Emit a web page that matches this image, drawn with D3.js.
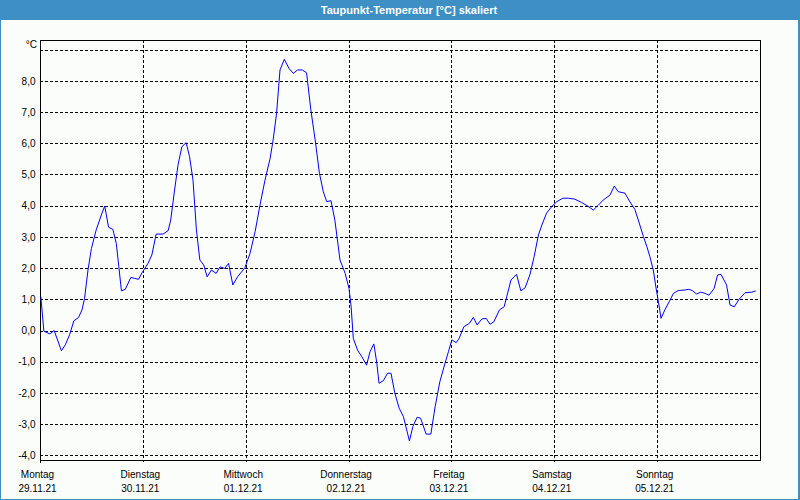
<!DOCTYPE html>
<html><head><meta charset="utf-8">
<script src="https://cdn.jsdelivr.net/npm/d3@7"></script>
<style>html,body{margin:0;padding:0;background:#3d8fc4;}svg{display:block;}</style>
</head><body>
<svg id="c" width="800" height="500"></svg>
<script>
const title = "Taupunkt-Temperatur [°C] skaliert";
const unitLabel = "°C";
const dayNames = ["Montag","Dienstag","Mittwoch","Donnerstag","Freitag","Samstag","Sonntag"];
const dayDates = ["29.11.21","30.11.21","01.12.21","02.12.21","03.12.21","04.12.21","05.12.21"];
const yTicks = [-4,-3,-2,-1,0,1,2,3,4,5,6,7,8,9];
// hours since Montag 29.11.21 00:00
const hours = [0.2,0.9,2.3,3.3,5.0,5.9,6.9,7.9,9.0,9.8,10.4,11.2,12.0,13.1,14.3,15.1,16.0,17.0,17.8,18.4,19.0,19.9,21.2,22.1,23.0,23.8,25.2,26.1,27.1,28.7,29.9,30.5,31.4,32.2,33.1,34.1,34.9,35.7,36.5,37.3,38.2,39.0,40.0,41.1,42.0,43.1,44.0,45.0,46.1,47.8,49.0,50.2,51.3,52.5,53.7,54.4,55.2,56.0,57.0,58.1,59.1,60.1,61.2,62.2,63.2,64.2,65.2,66.1,66.9,67.9,68.8,70.0,71.2,72.1,72.6,73.1,74.1,75.1,76.2,77.0,77.9,78.6,79.1,80.1,81.1,81.9,82.8,83.8,84.8,86.2,87.0,88.0,88.8,90.1,91.2,92.2,93.3,94.5,95.3,96.1,97.1,97.8,98.9,100.2,101.1,102.0,103.1,104.1,105.0,105.9,107.2,108.3,108.9,109.9,111.2,112.2,113.2,114.3,115.3,116.3,117.1,118.2,119.4,120.6,122.0,123.3,124.8,126.4,127.8,129.1,130.3,131.4,133.0,134.0,134.9,136.5,137.4,138.8,139.6,140.8,141.6,142.3,143.1,143.7,144.3,144.9,145.8,146.8,147.8,148.9,150.5,151.4,152.2,153.2,154.2,155.2,156.1,157.3,158.1,158.9,160.2,161.0,162.0,163.1,164.5,166.1,167.0];
const values = [1.08,-0.02,-0.11,0.0,-0.65,-0.46,-0.14,0.31,0.42,0.66,1.03,1.94,2.63,3.22,3.70,3.99,3.31,3.24,2.79,2.04,1.27,1.32,1.70,1.67,1.64,1.85,2.15,2.42,3.09,3.09,3.20,3.54,4.50,5.30,5.89,6.02,5.57,4.82,3.22,2.26,2.10,1.72,1.94,1.83,2.04,1.99,2.15,1.46,1.72,2.01,2.47,3.17,4.00,4.82,5.52,6.11,6.96,8.35,8.69,8.40,8.24,8.35,8.35,8.26,7.07,6.11,5.04,4.45,4.13,4.16,3.54,2.26,1.83,1.35,0.76,-0.25,-0.63,-0.84,-1.11,-0.68,-0.43,-1.05,-1.69,-1.61,-1.37,-1.37,-2.01,-2.49,-2.76,-3.54,-3.08,-2.78,-2.81,-3.32,-3.32,-2.44,-1.64,-1.05,-0.68,-0.30,-0.39,-0.25,0.12,0.23,0.42,0.18,0.37,0.39,0.20,0.28,0.66,0.76,1.08,1.62,1.80,1.27,1.37,1.78,2.37,3.06,3.38,3.76,3.97,4.13,4.24,4.24,4.21,4.10,3.99,3.86,4.02,4.18,4.34,4.63,4.45,4.40,4.18,3.88,3.54,3.01,2.69,2.37,1.94,1.40,0.92,0.39,0.66,0.92,1.19,1.28,1.30,1.32,1.28,1.17,1.23,1.19,1.13,1.35,1.78,1.80,1.46,0.82,0.76,1.00,1.21,1.23,1.27];

const svg = d3.select("#c");
const W = 800, H = 500;
const plot = {l:40, r:760, t:40, b:460};

// frame
svg.append("rect").attr("x",0).attr("y",0).attr("width",W).attr("height",H).attr("fill","#3d8fc4");
svg.append("rect").attr("x",1).attr("y",20).attr("width",797).attr("height",479).attr("fill","#fbfdfb");
svg.append("text").attr("x",409).attr("y",14).attr("text-anchor","middle")
  .attr("font-family","Liberation Sans, Arial, sans-serif").attr("font-size",11).attr("font-weight","bold")
  .attr("fill","#ffffff").text(title);

const x = d3.scaleLinear().domain([0,168]).range([plot.l, plot.r]);
const y = d3.scaleLinear().domain([-4.15, 9.31]).range([plot.b, plot.t]);

const font = "Liberation Sans, Arial, sans-serif";
// horizontal grid
svg.append("g").selectAll("line").data(yTicks).join("line")
  .attr("x1",plot.l).attr("x2",plot.r)
  .attr("y1",d=>Math.round(y(d))+0.5).attr("y2",d=>Math.round(y(d))+0.5)
  .attr("stroke","#000").attr("stroke-width",1).attr("stroke-dasharray","3,2");
// vertical grid
const dayTicks = d3.range(0,7).map(i=>i*24);
svg.append("g").selectAll("line").data(dayTicks.slice(1)).join("line")
  .attr("x1",d=>Math.round(x(d))+0.5).attr("x2",d=>Math.round(x(d))+0.5)
  .attr("y1",plot.t).attr("y2",plot.b+2)
  .attr("stroke","#000").attr("stroke-width",1).attr("stroke-dasharray","3,2");

// box
svg.append("rect").attr("x",plot.l+0.5).attr("y",plot.t+0.5).attr("width",plot.r-plot.l).attr("height",plot.b-plot.t)
  .attr("fill","none").attr("stroke","#000").attr("stroke-width",1);
svg.append("line").attr("x1",plot.l+0.5).attr("x2",plot.l+0.5).attr("y1",plot.t).attr("y2",plot.b+3).attr("stroke","#000");

// y axis labels
const yAxis = d3.axisLeft(y).tickValues(yTicks.filter(d=>d!==9)).tickSize(0).tickPadding(4)
  .tickFormat(d=>d.toFixed(1).replace(".",","));
const ga = svg.append("g").attr("transform",`translate(${plot.l-0.5},0)`).call(yAxis);
ga.select(".domain").remove();
ga.selectAll("text").attr("font-family",font).attr("font-size",10).attr("fill","#000");
svg.append("text").attr("x",plot.l-3).attr("y",48).attr("text-anchor","end")
  .attr("font-family",font).attr("font-size",10).attr("fill","#000").text(unitLabel);

// x labels
const xl = svg.append("g");
xl.selectAll("text.d").data(dayTicks).join("text").attr("class","d")
  .attr("x",(d)=>x(d)-2.5).attr("y",478).attr("text-anchor","middle")
  .attr("font-family",font).attr("font-size",10).attr("fill","#000").text((d,i)=>dayNames[i]);
xl.selectAll("text.t").data(dayTicks).join("text").attr("class","t")
  .attr("x",(d)=>x(d)-2.5).attr("y",492).attr("text-anchor","middle")
  .attr("font-family",font).attr("font-size",10).attr("fill","#000").text((d,i)=>dayDates[i]);

// line
const data = hours.map((h,i)=>({h, v: values[i]}));
svg.append("path").datum(data)
  .attr("d", d3.line().x(d=>x(d.h)).y(d=>y(d.v)))
  .attr("fill","none").attr("stroke","#0000ff").attr("stroke-width",1);
</script>
</body></html>
